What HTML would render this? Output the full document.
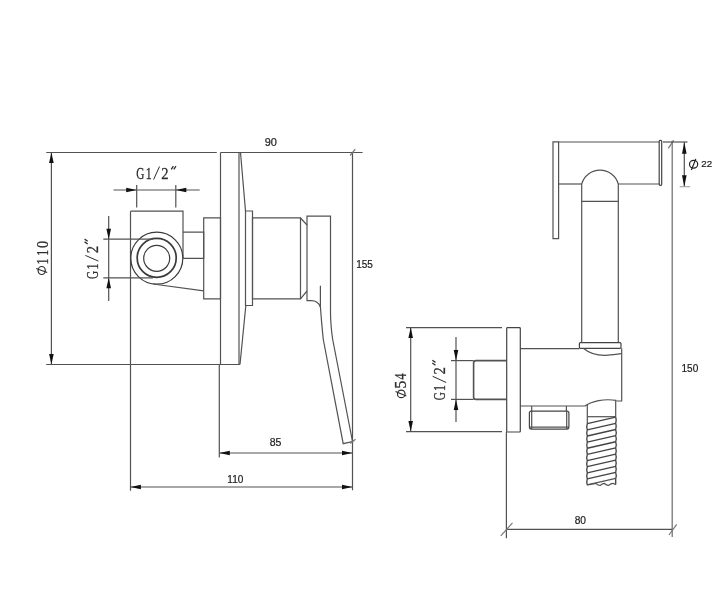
<!DOCTYPE html>
<html><head><meta charset="utf-8"><style>
html,body{margin:0;padding:0;background:#fff;width:720px;height:600px;overflow:hidden}
svg{display:block;will-change:transform}
</style></head><body>
<svg width="720" height="600" viewBox="0 0 720 600">
<rect width="720" height="600" fill="#fff"/>
<line x1="46.25" y1="152.5" x2="216.8" y2="152.5" stroke="#525252" stroke-width="1.2"/>
<line x1="220.5" y1="152.5" x2="362.6" y2="152.5" stroke="#525252" stroke-width="1.2"/>
<line x1="51.4" y1="152.5" x2="51.4" y2="364.5" stroke="#525252" stroke-width="1.2"/>
<polygon points="51.40,152.50 49.10,163.00 53.70,163.00" fill="#111"/>
<polygon points="51.40,364.50 49.10,354.00 53.70,354.00" fill="#111"/>
<line x1="46.2" y1="364.5" x2="240" y2="364.5" stroke="#525252" stroke-width="1.2"/>
<line x1="220.5" y1="152.5" x2="220.5" y2="364.5" stroke="#525252" stroke-width="1.2"/>
<line x1="239" y1="152.5" x2="239" y2="364.5" stroke="#525252" stroke-width="1.2"/>
<line x1="240.5" y1="152.5" x2="245.5" y2="211" stroke="#525252" stroke-width="1.2"/>
<line x1="245.8" y1="305.8" x2="240" y2="364.5" stroke="#525252" stroke-width="1.2"/>
<path d="M245.5,211 H252.5 V305.5 H245.5 Z" stroke="#525252" stroke-width="1.2" fill="none"/>
<path d="M252.5,217.8 H300.5 V298.8 H252.5 Z" stroke="#525252" stroke-width="1.2" fill="none"/>
<line x1="300.5" y1="218" x2="307" y2="225" stroke="#525252" stroke-width="1.2"/>
<line x1="300.5" y1="298.8" x2="307" y2="291" stroke="#525252" stroke-width="1.2"/>
<path d="M307,216.2 H330.5 V312 Q330.5,324 332.6,339 L352.5,441.5 L343.2,443.7 L323.2,339 Q321.5,322 320.4,307 Q318,300.7 311.3,300.7 H307 Z" stroke="#525252" stroke-width="1.2" fill="none"/>
<line x1="320.4" y1="285.7" x2="320.4" y2="307" stroke="#525252" stroke-width="1.2"/>
<path d="M130.5,211.2 H183 V258" stroke="#525252" stroke-width="1.2" fill="none"/>
<line x1="130.5" y1="211.2" x2="130.5" y2="490.8" stroke="#525252" stroke-width="1.2"/>
<circle cx="156.8" cy="258.2" r="26" stroke="#3a3a3a" fill="none" stroke-width="1.2"/>
<circle cx="156.7" cy="257.9" r="19.5" stroke="#3a3a3a" fill="none" stroke-width="1.7"/>
<circle cx="156.7" cy="258.3" r="13" stroke="#3a3a3a" fill="none" stroke-width="1.2"/>
<line x1="153" y1="284" x2="203.7" y2="290.8" stroke="#525252" stroke-width="1.2"/>
<path d="M183,232.2 H203.7 V258.3 H183" stroke="#525252" stroke-width="1.2" fill="none"/>
<path d="M203.7,217.8 H220.5 V298.8 H203.7 Z" stroke="#525252" stroke-width="1.2" fill="none"/>
<line x1="113.5" y1="190" x2="199.7" y2="190" stroke="#525252" stroke-width="1.2"/>
<polygon points="136.70,190.00 126.20,187.70 126.20,192.30" fill="#111"/>
<polygon points="175.80,190.00 186.30,187.70 186.30,192.30" fill="#111"/>
<line x1="136.7" y1="185" x2="136.7" y2="207.5" stroke="#525252" stroke-width="1.2"/>
<line x1="175.8" y1="185" x2="175.8" y2="207.5" stroke="#525252" stroke-width="1.2"/>
<line x1="108.7" y1="216" x2="108.7" y2="301" stroke="#525252" stroke-width="1.2"/>
<polygon points="108.70,239.20 106.40,228.70 111.00,228.70" fill="#111"/>
<polygon points="108.70,277.80 106.40,288.30 111.00,288.30" fill="#111"/>
<line x1="103.3" y1="239.2" x2="153" y2="239.2" stroke="#525252" stroke-width="1.2"/>
<line x1="103.3" y1="277.8" x2="153" y2="277.8" stroke="#525252" stroke-width="1.2"/>
<line x1="352.5" y1="152.5" x2="352.5" y2="490.2" stroke="#525252" stroke-width="1.2"/>
<line x1="350.1" y1="155.5" x2="355.3" y2="149.2" stroke="#777" stroke-width="1.2"/>
<line x1="350.3" y1="443.5" x2="355.5" y2="439.2" stroke="#777" stroke-width="1.2"/>
<line x1="219.3" y1="364.5" x2="219.3" y2="457.5" stroke="#525252" stroke-width="1.2"/>
<line x1="219.3" y1="453" x2="352.5" y2="453" stroke="#525252" stroke-width="1.2"/>
<polygon points="219.30,453.00 229.80,450.70 229.80,455.30" fill="#111"/>
<polygon points="352.50,453.00 342.00,450.70 342.00,455.30" fill="#111"/>
<line x1="130.4" y1="487" x2="352.5" y2="487" stroke="#525252" stroke-width="1.2"/>
<polygon points="130.40,487.00 140.90,484.70 140.90,489.30" fill="#111"/>
<polygon points="352.50,487.00 342.00,484.70 342.00,489.30" fill="#111"/>
<text transform="translate(140.4 178.9) scale(0.66 1)" x="-6.22" y="0" font-family="Liberation Serif" font-size="17" fill="#2e2e2e" stroke="#2e2e2e" stroke-width="0.3">G</text>
<text transform="translate(148.8 178.9) scale(0.7 1)" x="-4.49" y="0" font-family="Liberation Serif" font-size="17" fill="#2e2e2e" stroke="#2e2e2e" stroke-width="0.3">1</text>
<text transform="translate(164.9 178.9) scale(0.86 1)" x="-4.15" y="0" font-family="Liberation Serif" font-size="17" fill="#2e2e2e" stroke="#2e2e2e" stroke-width="0.3">2</text>
<line x1="153.6" y1="179.6" x2="159.5" y2="166.5" stroke="#2e2e2e" stroke-width="1.0"/>
<line x1="171.2" y1="169.3" x2="173.4" y2="166.2" stroke="#2e2e2e" stroke-width="1.3"/>
<line x1="173.8" y1="169.3" x2="176" y2="166.2" stroke="#2e2e2e" stroke-width="1.3"/>
<g transform="translate(97.6 275) rotate(-90)"><text transform="scale(0.66 1)" x="-6.22" y="0" font-family="Liberation Serif" font-size="17" fill="#2e2e2e" stroke="#2e2e2e" stroke-width="0.3">G</text></g>
<g transform="translate(97.6 266.25) rotate(-90)"><text transform="scale(0.7 1)" x="-4.49" y="0" font-family="Liberation Serif" font-size="17" fill="#2e2e2e" stroke="#2e2e2e" stroke-width="0.3">1</text></g>
<g transform="translate(97.6 249.75) rotate(-90)"><text transform="scale(0.86 1)" x="-4.15" y="0" font-family="Liberation Serif" font-size="17" fill="#2e2e2e" stroke="#2e2e2e" stroke-width="0.3">2</text></g>
<line x1="85.4" y1="255.4" x2="98.4" y2="261.1" stroke="#2e2e2e" stroke-width="1.0"/>
<line x1="84.6" y1="239.1" x2="87.7" y2="241.2" stroke="#2e2e2e" stroke-width="1.3"/>
<line x1="84.6" y1="241.9" x2="87.7" y2="244.0" stroke="#2e2e2e" stroke-width="1.3"/>
<g transform="translate(47.5 244.5) rotate(-90)"><text transform="scale(0.84 1)" x="-4.25" y="0" font-family="Liberation Serif" font-size="17" fill="#2e2e2e" stroke="#2e2e2e" stroke-width="0.3">0</text></g>
<g transform="translate(47.5 252.7) rotate(-90)"><text transform="scale(0.7 1)" x="-4.49" y="0" font-family="Liberation Serif" font-size="17" fill="#2e2e2e" stroke="#2e2e2e" stroke-width="0.3">1</text></g>
<g transform="translate(47.5 261.3) rotate(-90)"><text transform="scale(0.7 1)" x="-4.49" y="0" font-family="Liberation Serif" font-size="17" fill="#2e2e2e" stroke="#2e2e2e" stroke-width="0.3">1</text></g>
<ellipse cx="41.7" cy="270.5" rx="3.6" ry="4.0" stroke="#2e2e2e" stroke-width="1.2" fill="none"/>
<line x1="36.2" y1="268.4" x2="47.2" y2="272.4" stroke="#2e2e2e" stroke-width="1.1"/>
<text x="270.8" y="146.1" font-family="Liberation Sans" font-size="11" fill="#1a1a1a" stroke="#1a1a1a" stroke-width="0.2" text-anchor="middle">90</text>
<text x="364.6" y="268.2" font-family="Liberation Sans" font-size="10" fill="#1a1a1a" stroke="#1a1a1a" stroke-width="0.2" text-anchor="middle">155</text>
<text x="275.5" y="445.8" font-family="Liberation Sans" font-size="10.5" fill="#1a1a1a" stroke="#1a1a1a" stroke-width="0.2" text-anchor="middle">85</text>
<text x="235.3" y="482.6" font-family="Liberation Sans" font-size="10" fill="#1a1a1a" stroke="#1a1a1a" stroke-width="0.2" text-anchor="middle">110</text>
<path d="M553,141.9 H558.6 V238.7 H553 Z" stroke="#525252" stroke-width="1.2" fill="none"/>
<line x1="558.6" y1="142" x2="659.2" y2="142" stroke="#525252" stroke-width="1.2"/>
<line x1="558.6" y1="184" x2="581.7" y2="184" stroke="#525252" stroke-width="1.2"/>
<line x1="618.3" y1="184" x2="659.2" y2="184" stroke="#525252" stroke-width="1.2"/>
<rect x="659.2" y="140.3" width="2.5" height="45" rx="1" stroke="#444" fill="none" stroke-width="1.2"/>
<path d="M581.7,342.3 V184 A19,19 0 0 1 618.3,184 V342.3" stroke="#525252" stroke-width="1.2" fill="none"/>
<line x1="581.7" y1="201.3" x2="618.3" y2="201.3" stroke="#525252" stroke-width="1.2"/>
<rect x="579.4" y="342.7" width="41.6" height="5.6" rx="1" stroke="#444" fill="none" stroke-width="1.2"/>
<path d="M520.3,348.7 H579.4" stroke="#525252" stroke-width="1.2" fill="none"/>
<path d="M621.7,348.3 V401 H616.3" stroke="#525252" stroke-width="1.2" fill="none"/>
<path d="M520.3,406 H585 C592,401 604,398.5 616.3,400.4" stroke="#525252" stroke-width="1.2" fill="none"/>
<path d="M583.7,348.5 Q592,355.5 605,355.3 Q614,355 621.5,353.7" stroke="#525252" stroke-width="1.2" fill="none"/>
<rect x="506.7" y="327.7" width="13.6" height="104.3" rx="0.8" stroke="#444" fill="none" stroke-width="1.2"/>
<path d="M587.3,404 V423.7 M615.7,400.6 V417.2" stroke="#525252" stroke-width="1.2" fill="none"/>
<line x1="587.3" y1="416.7" x2="615.7" y2="416.7" stroke="#525252" stroke-width="1.2"/>
<line x1="587.3" y1="423.7" x2="615.7" y2="417.2" stroke="#444" stroke-width="1.35"/>
<line x1="587.3" y1="429.84" x2="615.7" y2="423.34" stroke="#444" stroke-width="1.35"/>
<line x1="587.3" y1="435.97999999999996" x2="615.7" y2="429.47999999999996" stroke="#444" stroke-width="1.35"/>
<line x1="587.3" y1="442.12" x2="615.7" y2="435.62" stroke="#444" stroke-width="1.35"/>
<line x1="587.3" y1="448.26" x2="615.7" y2="441.76" stroke="#444" stroke-width="1.35"/>
<line x1="587.3" y1="454.4" x2="615.7" y2="447.9" stroke="#444" stroke-width="1.35"/>
<line x1="587.3" y1="460.53999999999996" x2="615.7" y2="454.03999999999996" stroke="#444" stroke-width="1.35"/>
<line x1="587.3" y1="466.68" x2="615.7" y2="460.18" stroke="#444" stroke-width="1.35"/>
<line x1="587.3" y1="472.82" x2="615.7" y2="466.32" stroke="#444" stroke-width="1.35"/>
<line x1="587.3" y1="478.96" x2="615.7" y2="472.46" stroke="#444" stroke-width="1.35"/>
<path d="M587.3,423.7 Q586.2,426.77 587.3,429.84 Q586.2,432.91 587.3,435.98 Q586.2,439.05 587.3,442.12 Q586.2,445.19 587.3,448.26 Q586.2,451.33 587.3,454.40 Q586.2,457.47 587.3,460.54 Q586.2,463.61 587.3,466.68 Q586.2,469.75 587.3,472.82 Q586.2,475.89 587.3,478.96 Q586.2,482.03 587.3,485.10" stroke="#444" stroke-width="1.35" fill="none"/>
<path d="M615.7,417.2 Q616.8,420.27 615.7,423.34 Q616.8,426.41 615.7,429.48 Q616.8,432.55 615.7,435.62 Q616.8,438.69 615.7,441.76 Q616.8,444.83 615.7,447.90 Q616.8,450.97 615.7,454.04 Q616.8,457.11 615.7,460.18 Q616.8,463.25 615.7,466.32 Q616.8,469.39 615.7,472.46 Q616.8,475.53 615.7,478.60 V484.6" stroke="#444" stroke-width="1.35" fill="none"/>
<line x1="587.3" y1="484.9" x2="615.7" y2="478.4" stroke="#525252" stroke-width="1.2"/>
<path d="M587.3,484.9 L595.8,483.3 Q598,485.5 600.4,485.4 Q602.5,483.3 604.2,483.3 Q606.5,485.5 608.75,485.4 Q611,483.3 613,483.3 L615.7,484.6" stroke="#525252" stroke-width="1.2" fill="none"/>
<line x1="531.7" y1="406" x2="531.7" y2="411.3" stroke="#525252" stroke-width="1.2"/>
<line x1="566.4" y1="406" x2="566.4" y2="411.3" stroke="#525252" stroke-width="1.2"/>
<rect x="529.4" y="411.1" width="39.5" height="18" rx="2" stroke="#444" fill="none" stroke-width="1.2"/>
<line x1="531.7" y1="411.1" x2="531.7" y2="429.1" stroke="#525252" stroke-width="1.2"/>
<line x1="566.7" y1="411.1" x2="566.7" y2="429.1" stroke="#525252" stroke-width="1.2"/>
<line x1="529.4" y1="427.2" x2="568.9" y2="427.2" stroke="#525252" stroke-width="1.2"/>
<path d="M506.6,360.6 H476 Q473.6,360.6 473.6,363 V397 Q473.6,399.4 476,399.4 H506.6" stroke="#525252" stroke-width="1.6" fill="none"/>
<line x1="451" y1="360.6" x2="473.6" y2="360.6" stroke="#525252" stroke-width="1.2"/>
<line x1="451" y1="399.4" x2="473.6" y2="399.4" stroke="#525252" stroke-width="1.2"/>
<line x1="456" y1="337" x2="456" y2="422" stroke="#525252" stroke-width="1.2"/>
<polygon points="456.00,360.60 453.70,350.10 458.30,350.10" fill="#111"/>
<polygon points="456.00,399.40 453.70,409.90 458.30,409.90" fill="#111"/>
<line x1="406" y1="327.6" x2="502" y2="327.6" stroke="#525252" stroke-width="1.2"/>
<line x1="406" y1="431.6" x2="502" y2="431.6" stroke="#525252" stroke-width="1.2"/>
<line x1="410.7" y1="327.6" x2="410.7" y2="431.6" stroke="#525252" stroke-width="1.2"/>
<polygon points="410.70,327.60 408.40,338.10 413.00,338.10" fill="#111"/>
<polygon points="410.70,431.60 408.40,421.10 413.00,421.10" fill="#111"/>
<line x1="672.2" y1="140.8" x2="672.2" y2="537" stroke="#6a6a6a" stroke-width="1.2"/>
<line x1="668.3" y1="148.3" x2="673.7" y2="140.3" stroke="#777" stroke-width="1.2"/>
<line x1="663" y1="142" x2="687.5" y2="142" stroke="#525252" stroke-width="1.2"/>
<line x1="684.3" y1="142" x2="684.3" y2="186.6" stroke="#525252" stroke-width="1.2"/>
<polygon points="684.30,142.30 682.00,153.80 686.60,153.80" fill="#111"/>
<polygon points="684.30,186.80 682.00,175.30 686.60,175.30" fill="#111"/>
<line x1="679.7" y1="186.7" x2="690.2" y2="186.7" stroke="#aaa" stroke-width="1.2"/>
<line x1="506.4" y1="432" x2="506.4" y2="538.3" stroke="#525252" stroke-width="1.2"/>
<line x1="506.4" y1="529.3" x2="672.3" y2="529.3" stroke="#525252" stroke-width="1.2"/>
<line x1="500.8" y1="535.8" x2="512.5" y2="522.9" stroke="#777" stroke-width="1.2"/>
<line x1="669" y1="535" x2="676.7" y2="524.3" stroke="#777" stroke-width="1.2"/>
<text x="689.9" y="372" font-family="Liberation Sans" font-size="10" fill="#1a1a1a" stroke="#1a1a1a" stroke-width="0.2" text-anchor="middle">150</text>
<text x="580.3" y="523.6" font-family="Liberation Sans" font-size="10.2" fill="#1a1a1a" stroke="#1a1a1a" stroke-width="0.2" text-anchor="middle">80</text>
<g transform="translate(406.1 384.4) rotate(-90)"><text transform="scale(0.92 1)" x="-4.42" y="0" font-family="Liberation Serif" font-size="17" fill="#2e2e2e" stroke="#2e2e2e" stroke-width="0.3">5</text></g>
<g transform="translate(406.1 376.4) rotate(-90)"><text transform="scale(0.76 1)" x="-4.28" y="0" font-family="Liberation Serif" font-size="17" fill="#2e2e2e" stroke="#2e2e2e" stroke-width="0.3">4</text></g>
<ellipse cx="401.25" cy="393.9" rx="3.8" ry="3.8" stroke="#2e2e2e" stroke-width="1.2" fill="none"/>
<line x1="395.5" y1="391.6" x2="406.3" y2="395.9" stroke="#2e2e2e" stroke-width="1.1"/>
<g transform="translate(445.4 396.1) rotate(-90)"><text transform="scale(0.66 1)" x="-6.22" y="0" font-family="Liberation Serif" font-size="17" fill="#2e2e2e" stroke="#2e2e2e" stroke-width="0.3">G</text></g>
<g transform="translate(445.4 387.8) rotate(-90)"><text transform="scale(0.7 1)" x="-4.49" y="0" font-family="Liberation Serif" font-size="17" fill="#2e2e2e" stroke="#2e2e2e" stroke-width="0.3">1</text></g>
<g transform="translate(445.4 371) rotate(-90)"><text transform="scale(0.86 1)" x="-4.15" y="0" font-family="Liberation Serif" font-size="17" fill="#2e2e2e" stroke="#2e2e2e" stroke-width="0.3">2</text></g>
<line x1="432.6" y1="376.3" x2="446.2" y2="382.5" stroke="#2e2e2e" stroke-width="1.0"/>
<line x1="432.3" y1="360.2" x2="435.5" y2="362.4" stroke="#2e2e2e" stroke-width="1.3"/>
<line x1="432.3" y1="363" x2="435.5" y2="365.2" stroke="#2e2e2e" stroke-width="1.3"/>
<ellipse cx="693.6" cy="164.3" rx="4.1" ry="3.9" stroke="#222" stroke-width="1.2" fill="none"/>
<line x1="691.4" y1="170" x2="695.8" y2="158.9" stroke="#222" stroke-width="1.2"/>
<text x="706.8" y="166.8" font-family="Liberation Sans" font-size="9.8" fill="#1a1a1a" stroke="#1a1a1a" stroke-width="0.2" text-anchor="middle">22</text>
</svg>
</body></html>
